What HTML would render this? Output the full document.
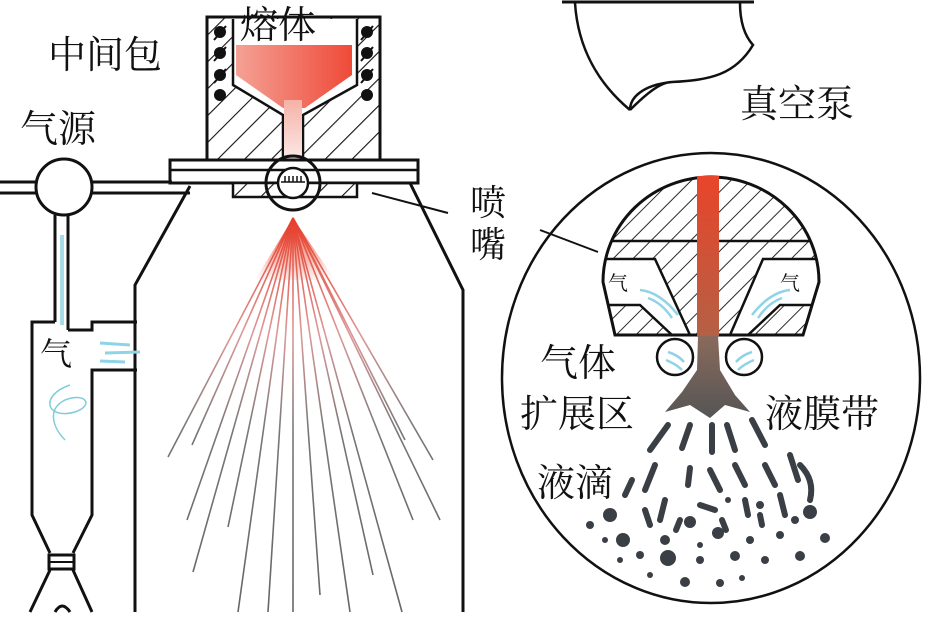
<!DOCTYPE html>
<html><head><meta charset="utf-8"><style>
html,body{margin:0;padding:0;background:#fff;}
svg{display:block;}
text{font-family:"Liberation Serif","Noto Serif CJK SC",serif;fill:#111;}
</style></head><body>
<svg width="935" height="620" viewBox="0 0 935 620" xmlns="http://www.w3.org/2000/svg">
<defs>
<pattern id="h" width="19" height="19" patternUnits="userSpaceOnUse" patternTransform="rotate(45)">
<rect width="19" height="19" fill="#fff"/><line x1="0" y1="0" x2="0" y2="19" stroke="#111" stroke-width="2.2"/></pattern>
<pattern id="h2" width="14" height="14" patternUnits="userSpaceOnUse" patternTransform="rotate(45)">
<rect width="14" height="14" fill="#fff"/><line x1="0" y1="0" x2="0" y2="14" stroke="#111" stroke-width="1.8"/></pattern>
<linearGradient id="melt" x1="0" y1="0" x2="1" y2="0"><stop offset="0" stop-color="#f4a195"/><stop offset="1" stop-color="#ef4a38"/></linearGradient>
<linearGradient id="chan" x1="0" y1="0" x2="0" y2="1"><stop offset="0" stop-color="#f6b2a6"/><stop offset="1" stop-color="#fbe9e6"/></linearGradient>
<linearGradient id="spray" gradientUnits="userSpaceOnUse" x1="0" y1="215" x2="0" y2="612"><stop offset="0" stop-color="#e83a26"/><stop offset="0.3" stop-color="#d99" /><stop offset="0.55" stop-color="#777"/><stop offset="1" stop-color="#666"/></linearGradient>
<radialGradient id="cone" cx="293" cy="218" r="80" gradientUnits="userSpaceOnUse"><stop offset="0" stop-color="#ee3a22"/><stop offset="0.6" stop-color="#f79b8d" stop-opacity="0.6"/><stop offset="1" stop-color="#fff" stop-opacity="0"/></radialGradient>
<linearGradient id="stream" x1="0" y1="0" x2="0" y2="1"><stop offset="0" stop-color="#e8452a"/><stop offset="1" stop-color="#b56045"/></linearGradient>
<linearGradient id="film" x1="0" y1="0" x2="0" y2="1"><stop offset="0" stop-color="#8a6a5c"/><stop offset="1" stop-color="#555"/></linearGradient>
<clipPath id="dome"><path d="M615,335 L603,282 A108,105 0 0 1 819,282 L803,335 Z"/></clipPath>
</defs>

<!-- vacuum pump -->
<line x1="562" y1="2" x2="754" y2="2" stroke="#111" stroke-width="3"/>
<path d="M575,3 C578,50 600,85 630,110 M740,3 C740,20 744,35 753,45 C735,75 710,80 672,82 C660,82 645,95 630,110 M630,110 C630,98 642,85 672,82" fill="none" stroke="#111" stroke-width="2.5"/>

<!-- tundish -->
<rect x="207" y="17" width="173" height="143" fill="url(#h)" stroke="#111" stroke-width="3"/>
<path d="M233,19 L233,85 L283,115 L283,160 L303,160 L303,115 L357,85 L357,19 Z" fill="#fff"/>
<path d="M233,19 L233,85 L283,115 L283,160 M303,160 L303,115 L357,85 L357,19" fill="none" stroke="#111" stroke-width="2.5"/>
<path d="M236,45 L352,45 L352,75 L305,108 L283,108 L236,75 Z" fill="url(#melt)"/>
<rect x="284" y="100" width="18" height="60" fill="url(#chan)"/>
<g fill="#111"><circle cx="220" cy="32" r="6"/><circle cx="220" cy="53" r="6"/><circle cx="220" cy="75" r="6"/><circle cx="220" cy="95" r="6"/>
<circle cx="367" cy="32" r="6"/><circle cx="367" cy="53" r="6"/><circle cx="367" cy="75" r="6"/><circle cx="367" cy="95" r="6"/></g>
<path d="M214,40 L226,26 M214,61 L226,47 M214,83 L226,69 M361,40 L373,26 M361,61 L373,47 M361,83 L373,69" stroke="#111" stroke-width="2"/>

<!-- plate -->
<rect x="170" y="160" width="248" height="23" fill="#fff" stroke="#111" stroke-width="3"/>
<line x1="170" y1="170" x2="418" y2="170" stroke="#111" stroke-width="2.5"/>
<rect x="233" y="183" width="124" height="14" fill="url(#h)" stroke="#111" stroke-width="2.5"/>
<circle cx="293" cy="183" r="27" fill="none" stroke="#111" stroke-width="3"/>
<circle cx="293" cy="183" r="15" fill="#fff" stroke="#111" stroke-width="2.5"/>
<path d="M281,182 L305,182 M285,176 V182 M289,176 V182 M293,176 V182 M297,176 V182 M301,176 V182" stroke="#111" stroke-width="1.5"/>

<!-- gas line -->
<line x1="0" y1="182" x2="172" y2="182" stroke="#111" stroke-width="3"/>
<line x1="0" y1="193" x2="190" y2="193" stroke="#111" stroke-width="3"/>
<circle cx="64" cy="187" r="28" fill="#fff" stroke="#111" stroke-width="3"/>
<line x1="55" y1="215" x2="55" y2="322" stroke="#111" stroke-width="3"/>
<line x1="68" y1="215" x2="68" y2="330" stroke="#111" stroke-width="3"/>
<rect x="60" y="235" width="4" height="90" fill="#a8dbe8"/>

<!-- chamber -->
<path d="M190,186 L135,285 L135,612" fill="none" stroke="#111" stroke-width="3"/>
<path d="M410,183 L463,290 L463,612" fill="none" stroke="#111" stroke-width="3"/>
<line x1="372" y1="193" x2="448" y2="213" stroke="#111" stroke-width="2"/>

<!-- cyclone -->
<path d="M55,322 L32,322 L32,515 L50,553 M68,330 L92,330 L92,322 L137,322 M137,370 L92,370 L92,515 L73,553" fill="none" stroke="#111" stroke-width="3"/>
<rect x="49" y="555" width="25" height="14" fill="#fff" stroke="#111" stroke-width="3"/>
<line x1="49" y1="562" x2="74" y2="562" stroke="#111" stroke-width="2"/>
<path d="M50,570 L30,612 M73,570 L92,612 M55,612 Q62,600 70,612" fill="none" stroke="#111" stroke-width="3"/>
<text x="40" y="365" font-size="32">气</text>
<g stroke="#8fd3e6" stroke-width="3" fill="none"><path d="M100,343 L130,345 M105,353 L140,352 M100,361 L125,362"/></g>
<path d="M70,385 C40,395 45,420 75,412 C95,405 85,392 65,400 C45,410 55,430 65,440" fill="none" stroke="#7fcbdc" stroke-width="1.5"/>

<!-- spray -->
<path d="M293,218 L255,280 L335,280 Z" fill="url(#cone)"/>
<g stroke="url(#spray)" stroke-width="1.6" fill="none">
<line x1="293" y1="218" x2="168" y2="457"/><line x1="293" y1="218" x2="192" y2="445"/>
<line x1="293" y1="218" x2="187" y2="520"/><line x1="293" y1="218" x2="228" y2="527"/>
<line x1="293" y1="218" x2="193" y2="572"/><line x1="293" y1="218" x2="238" y2="612"/>
<line x1="293" y1="218" x2="268" y2="612"/><line x1="293" y1="218" x2="293" y2="612"/>
<line x1="293" y1="218" x2="320" y2="595"/><line x1="293" y1="218" x2="350" y2="612"/>
<line x1="293" y1="218" x2="373" y2="575"/><line x1="293" y1="218" x2="402" y2="612"/>
<line x1="293" y1="218" x2="413" y2="520"/><line x1="293" y1="218" x2="440" y2="520"/>
<line x1="293" y1="218" x2="433" y2="460"/><line x1="293" y1="218" x2="405" y2="440"/>
</g>

<!-- detail circle -->
<ellipse cx="711" cy="378" rx="209" ry="225" fill="none" stroke="#111" stroke-width="2.5"/>
<line x1="540" y1="230" x2="598" y2="252" stroke="#111" stroke-width="2"/>
<g clip-path="url(#dome)">
<rect x="600" y="170" width="225" height="170" fill="url(#h2)"/>
<path d="M600,259 L655,259 L690,335 L672,335 L640,305 L600,305 Z" fill="#fff"/>
<path d="M825,259 L763,259 L730,335 L748,335 L780,305 L825,305 Z" fill="#fff"/>
<path d="M600,241 H825 M600,259 H655 L690,335 M600,305 H640 L672,335 M825,259 H763 L730,335 M825,305 H780 L748,335" stroke="#111" stroke-width="2.5" fill="none"/>
</g>
<path d="M615,335 L603,282 A108,105 0 0 1 819,282 L803,335 Z" fill="none" stroke="#111" stroke-width="3"/>
<text x="608" y="290" font-size="20">气</text><text x="780" y="290" font-size="20">气</text>
<g stroke="#8fd3e6" stroke-width="2.5" fill="none"><path d="M640,290 Q660,292 678,315 M648,298 Q662,303 672,318 M790,290 Q770,292 752,315 M782,298 Q768,303 758,318"/></g>
<rect x="697" y="176" width="22" height="160" fill="url(#stream)"/>
<path d="M698,336 L718,336 L720,370 L735,395 L750,412 L725,405 L710,418 L690,405 L665,412 L682,392 L697,370 Z" fill="url(#film)"/>
<circle cx="675" cy="357" r="18" fill="#fff" stroke="#111" stroke-width="2.5"/>
<circle cx="744" cy="357" r="18" fill="#fff" stroke="#111" stroke-width="2.5"/>
<g stroke="#8fd3e6" stroke-width="2.5" fill="none"><path d="M668,352 Q678,355 684,362 M666,360 Q676,364 682,370 M752,352 Q742,355 736,362 M754,360 Q744,364 738,370"/></g>

<!-- droplets -->
<g stroke="#3a3f45" stroke-width="6" stroke-linecap="round" fill="none">
<path d="M668,425 L650,450"/><path d="M690,425 L682,448"/><path d="M712,425 L712,452"/><path d="M727,425 L735,450"/><path d="M752,420 L765,445"/>
<path d="M655,465 L645,490"/><path d="M690,468 L688,485"/><path d="M710,470 L720,490"/><path d="M735,465 L745,485"/><path d="M765,465 L775,485"/><path d="M790,455 L798,480"/>
<path d="M632,480 L625,495"/><path d="M665,500 L660,520"/><path d="M700,505 L715,510"/><path d="M745,500 L748,515"/><path d="M780,495 L785,515"/><path d="M800,465 Q815,480 810,500"/>
<path d="M645,510 L650,525"/><path d="M680,520 L676,530"/><path d="M722,520 L726,530"/><path d="M760,515 L762,525"/>
</g>
<g fill="#3a3f45">
<circle cx="610" cy="515" r="7"/><circle cx="623" cy="540" r="7"/><circle cx="590" cy="525" r="4"/><circle cx="605" cy="540" r="3"/>
<circle cx="665" cy="540" r="5"/><circle cx="690" cy="522" r="6"/><circle cx="718" cy="533" r="6"/><circle cx="750" cy="540" r="4"/>
<circle cx="810" cy="512" r="7"/><circle cx="825" cy="538" r="5"/><circle cx="795" cy="520" r="4"/><circle cx="780" cy="535" r="4"/>
<circle cx="668" cy="558" r="8"/><circle cx="640" cy="555" r="4"/><circle cx="700" cy="560" r="4"/><circle cx="735" cy="556" r="5"/>
<circle cx="765" cy="560" r="4"/><circle cx="800" cy="556" r="5"/><circle cx="620" cy="560" r="3"/>
<circle cx="685" cy="582" r="5"/><circle cx="720" cy="583" r="4"/><circle cx="742" cy="578" r="3"/><circle cx="650" cy="575" r="3"/>
<circle cx="760" cy="505" r="4"/><circle cx="700" cy="545" r="3"/><circle cx="728" cy="500" r="3"/>
</g>

<!-- labels -->
<text x="48" y="68" font-size="38">中间包</text>
<text x="20" y="142" font-size="38">气源</text>
<text x="240" y="38" font-size="38">熔体</text>
<text x="740" y="117" font-size="38">真空泵</text>
<text x="470" y="215" font-size="36">喷</text>
<text x="470" y="257" font-size="36">嘴</text>
<text x="540" y="376" font-size="38">气体</text>
<text x="520" y="427" font-size="38">扩展区</text>
<text x="765" y="427" font-size="38">液膜带</text>
<text x="537" y="496" font-size="38">液滴</text>
</svg>
</body></html>
